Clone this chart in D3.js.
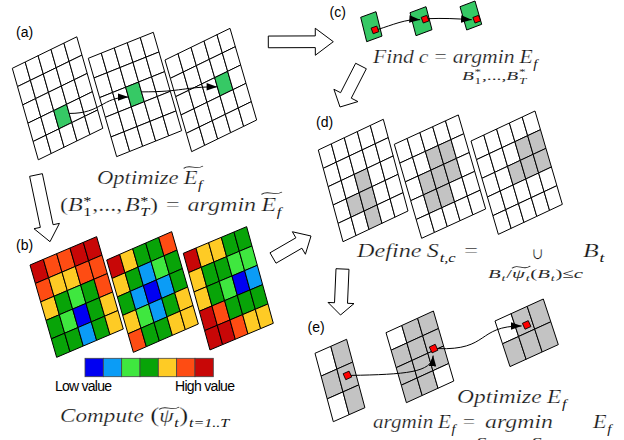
<!DOCTYPE html>
<html>
<head>
<meta charset="utf-8">
<script src="https://cdn.jsdelivr.net/npm/d3@7"></script>
<style>
  body { margin: 0; background: #fff; }
  svg { display: block; }
  .lbl { font-family: "Liberation Sans", Arial, sans-serif; font-size: 14px; fill: #000; }
  .math { font-family: "Liberation Serif", "DejaVu Serif", serif; font-style: italic; fill: #151515; }
  .math text.big { stroke: #fff; stroke-width: 0.22px; }
  .math.small { fill: #2a2a2a; }
</style>
</head>
<body>
<svg id="fig" width="624" height="440"></svg>
<script>
// psi value levels, 0 = low ... 6 = high
const levelColors = ["#0000f2", "#0b9cf6", "#3fe73f", "#08a408", "#fecb25", "#fe4c13", "#c80707"]
const psi1 = [[6,5,5,6,6],[5,4,4,5,5],[4,3,2,3,5],[3,2,0,3,4],[3,3,1,3,4]]
const psi2 = [[6,4,3,3,5],[4,3,1,2,3],[3,1,0,1,3],[4,2,1,3,4],[5,3,3,4,4]]
const psi3 = [[6,4,4,3,3],[4,3,3,2,2],[4,3,2,0,1],[6,5,3,3,3],[6,6,5,4,4]]

// best block B*_t of each frame in (a), [col,row]
const bestBlocks = [[2,3],[2,2],[3,2]]
// blocks kept in S_t,c in (d)
const setD1 = [[2,2],[1,3],[2,3],[2,4]]
const setD2 = [[2,1],[3,1],[1,2],[2,2],[3,2],[1,3],[2,3]]
const setD3 = [[3,1],[4,1],[2,2],[3,2],[4,2]]
// windows of (e), 1 = inside S_t,c
const subE1 = [[0,1],[1,1],[0,1]]
const subE2 = [[0,1,1],[1,1,1],[1,1,1],[1,1,0]]
const subE3 = [[0,1,1],[1,1,1]]
// chosen position c in every frame (grid units)
const pathC = [[0.67,0.67],[0.76,0.48],[0.79,0.73]]
const pathE = [[1.5,1.43],[2.4,1.9],[1.64,0.7]]
const legendLabels = ["Low value", "High value"]

const svg = d3.select('#fig')

// where each skewed grid sits: origin, column step, row step
const pos = {
  a: [{o:[12.3,68.3], u:[12.9,-6.3], v:[5.2,18.3]},
      {o:[88.3,58.3], u:[13,-5.2], v:[5.67,19.67]},
      {o:[165,60], u:[13,-6.33], v:[5.33,18.33]}],
  b: [{o:[30,265], u:[13.33,-5.67], v:[5.33,18.47]},
      {o:[106.7,260], u:[13,-5.67], v:[5.33,18.47]},
      {o:[183.3,253.3], u:[12.67,-5.33], v:[5.33,19.33]}],
  c: [{o:[360.7,17.3], u:[15.3,-5.6], v:[6,24.4]},
      {o:[410,12.7], u:[16,-6], v:[6,23]},
      {o:[460,6.7], u:[15,-5.7], v:[6.7,23.3]}],
  d: [{o:[318.3,150], u:[13,-6.14], v:[4.94,18.34]},
      {o:[394.3,144.3], u:[12.8,-5.87], v:[5.47,18.8]},
      {o:[471,141], u:[12.8,-6], v:[5.47,18.67]}],
  e: [{o:[315,353.3], u:[15.8,-7], v:[6.1,22.8]},
      {o:[386,332.7], u:[15.8,-7.23], v:[5.1,17.5]},
      {o:[495,321], u:[16.1,-7.33], v:[7.5,22.8]}]
}

const psiColor = d3.scaleOrdinal().domain(d3.range(7)).range(levelColors)
const greenColor = d3.scaleOrdinal().domain([0,1]).range(['#fff', '#36c965'])
const grayColor = d3.scaleOrdinal().domain([0,1]).range(['#fff', '#c3c3c3'])

function place(p, a, b) {
  return [p.o[0] + a*p.u[0] + b*p.v[0], p.o[1] + a*p.u[1] + b*p.v[1]]
}

function mask(list) {
  const m = d3.range(5).map(() => [0,0,0,0,0])
  list.forEach(([c, r]) => m[r][c] = 1)
  return m
}

function drawGrid(p, values, color) {
  const nr = values.length, nc = values[0].length
  const x = d3.scaleBand().domain(d3.range(nc)).range([0, nc])
  const y = d3.scaleBand().domain(d3.range(nr)).range([0, nr])
  const g = svg.append('g')
    .attr('transform', `matrix(${p.u[0]},${p.u[1]},${p.v[0]},${p.v[1]},${p.o[0]},${p.o[1]})`)
  const cells = values.flatMap((row, r) => row.map((v, c) => ({r, c, v})))
  g.selectAll('rect').data(cells).join('rect')
    .attr('x', d => x(d.c))
    .attr('y', d => y(d.r))
    .attr('width', x.bandwidth())
    .attr('height', y.bandwidth())
    .attr('fill', d => color(d.v))
    .attr('stroke', '#000')
    .attr('stroke-width', 1)
    .attr('vector-effect', 'non-scaling-stroke')
}

function redSquare(p, a, b, s) {
  const [cx, cy] = place(p, a, b)
  const ang = Math.atan2(p.u[1], p.u[0]) * 180 / Math.PI
  svg.append('rect')
    .attr('x', -s/2).attr('y', -s/2).attr('width', s).attr('height', s)
    .attr('transform', `translate(${cx},${cy}) rotate(${ang})`)
    .attr('fill', '#f00').attr('stroke', '#000').attr('stroke-width', 0.8)
}

svg.append('defs').append('marker')
  .attr('id', 'tri')
  .attr('viewBox', '0 0 10 7')
  .attr('refX', 10).attr('refY', 3.5)
  .attr('markerWidth', 11).attr('markerHeight', 7.5)
  .attr('markerUnits', 'userSpaceOnUse')
  .attr('orient', 'auto')
  .append('path').attr('d', 'M0,0L10,3.5L0,7Z').attr('fill', '#000')

function curve(s, c1, c2, e) {
  const p = d3.path()
  p.moveTo(s[0], s[1])
  p.bezierCurveTo(c1[0], c1[1], c2[0], c2[1], e[0], e[1])
  svg.append('path').attr('d', p.toString())
    .attr('fill', 'none').attr('stroke', '#000').attr('stroke-width', 1)
    .attr('marker-end', 'url(#tri)')
}

// big hollow arrows between steps
const bigArrows = [
  {tail:[268.3,41.9], tip:[333.3,41.7], shaft:11.7, head:27, len:18},
  {tail:[361,66], tip:[340,107], shaft:12, head:27, len:13},
  {tail:[36,175], tip:[50,241.7], shaft:13, head:26, len:16},
  {tail:[273,258], tip:[311,236], shaft:12, head:26, len:14},
  {tail:[342.5,269], tip:[340.5,315], shaft:13, head:26, len:12}
]
bigArrows.forEach(a => {
  const dx = a.tip[0] - a.tail[0], dy = a.tip[1] - a.tail[1]
  const L = Math.hypot(dx, dy), ux = dx/L, uy = dy/L, nx = -uy, ny = ux
  const bx = a.tip[0] - ux*a.len, by = a.tip[1] - uy*a.len
  const pts = [
    [a.tail[0] + nx*a.shaft/2, a.tail[1] + ny*a.shaft/2],
    [bx + nx*a.shaft/2, by + ny*a.shaft/2],
    [bx + nx*a.head/2, by + ny*a.head/2],
    a.tip,
    [bx - nx*a.head/2, by - ny*a.head/2],
    [bx - nx*a.shaft/2, by - ny*a.shaft/2],
    [a.tail[0] - nx*a.shaft/2, a.tail[1] - ny*a.shaft/2]
  ]
  svg.append('path').attr('d', d3.line()(pts) + 'Z')
    .attr('fill', '#fff').attr('stroke', '#000').attr('stroke-width', 1)
})

// (a)
bestBlocks.forEach((b, i) => drawGrid(pos.a[i], mask([b]), greenColor))
for (let i = 0; i < 2; i++) {
  const s = place(pos.a[i], bestBlocks[i][0] + 1, bestBlocks[i][1] + 0.5)
  const e = place(pos.a[i+1], bestBlocks[i+1][0], bestBlocks[i+1][1] + 0.5)
  const dx = e[0] - s[0]
  curve(s, [s[0] + dx*0.55, s[1]], [e[0] - dx*0.45, e[1]], e)
}

// (b)
;[psi1, psi2, psi3].forEach((m, i) => drawGrid(pos.b[i], m, psiColor))
const lx = d3.scaleBand().domain(d3.range(7)).range([85, 213.3])
svg.append('g').selectAll('rect').data(d3.range(7)).join('rect')
  .attr('x', d => lx(d)).attr('y', 358.3)
  .attr('width', lx.bandwidth()).attr('height', 18.4)
  .attr('fill', d => psiColor(d)).attr('stroke', '#444').attr('stroke-width', 0.8)
svg.append('text').attr('class', 'lbl').attr('x', 55).attr('y', 391)
  .attr('font-size', 13).attr('textLength', 57).text(legendLabels[0])
svg.append('text').attr('class', 'lbl').attr('x', 175).attr('y', 391)
  .attr('font-size', 13).attr('textLength', 60).text(legendLabels[1])

// (c)
pos.c.forEach(p => drawGrid(p, [[1]], greenColor))
for (let i = 0; i < 2; i++) {
  const s = place(pos.c[i], ...pathC[i]), e = place(pos.c[i+1], ...pathC[i+1])
  const a = [s[0] + 3, s[1] - 0.5], b = [e[0] - 5, e[1] + 0.5]
  curve(a, [a[0] + (b[0]-a[0])/3, a[1] + (b[1]-a[1])/3 - 1], [a[0] + 2*(b[0]-a[0])/3, b[1] - 1], b)
}
pathC.forEach((c, i) => redSquare(pos.c[i], c[0], c[1], 6))

// (d)
;[setD1, setD2, setD3].forEach((s, i) => drawGrid(pos.d[i], mask(s), grayColor))

// (e)
;[subE1, subE2, subE3].forEach((m, i) => drawGrid(pos.e[i], m, grayColor))
const r = pathE.map((c, i) => place(pos.e[i], c[0], c[1]))
{
  const s = [r[0][0] + 3, r[0][1]], e = [r[1][0] - 0.5, r[1][1] + 7]
  curve(s, [s[0] + 55, s[1] - 1], [e[0] - 1, e[1] + 17], e)
  const s2 = [r[1][0] + 4, r[1][1]], e2 = [r[2][0] - 5, r[2][1] + 1]
  curve(s2, [s2[0] + 52, s2[1] + 2], [e2[0] - 45, e2[1]], e2)
}
pathE.forEach((c, i) => redSquare(pos.e[i], c[0], c[1], 6.5))

// panel letters
;[['(a)',16,36.5],['(b)',16,250],['(c)',329.5,16.5],['(d)',316,126.5],['(e)',307.5,332]].forEach(([t,x,y]) =>
  svg.append('text').attr('class', 'lbl').attr('x', x).attr('y', y).text(t))

// math formulas: tokens laid out in a row, then stretched to the width of the picture
function tildePath(x0, x1, y) {
  const w = x1 - x0
  return `M${x0},${y+1.3} C${x0+w*0.35},${y-3.4} ${x0+w*0.6},${y+3.8} ${x1},${y-1}`
}
function formula(x, y, width, size, toks) {
  const g = svg.append('g').attr('class', 'math').classed('small', size < 15)
  let cx = 0, ts = 0
  const put = (t, tx, ty, fs, up) => {
    const el = g.append('text').attr('x', tx).attr('y', ty).attr('font-size', fs)
      .classed('big', fs >= 15).text(t)
    if (up) el.style('font-style', 'normal')
    return el.node().getComputedTextLength()
  }
  toks.forEach(k => {
    if (typeof k === 'string') k = {t: k}
    if (k.gap) cx += k.gap
    else if (k.ts) ts = cx
    else if (k.te) g.append('path').attr('d', tildePath(ts, cx, k.ty))
      .attr('fill', 'none').attr('stroke', '#222').attr('stroke-width', 0.9)
    else if (k.sup !== undefined) {
      // star above, index below, in one text
      const fs = k.size || size*0.68
      const el = g.append('text').attr('font-size', fs)
      const a = el.append('tspan').attr('x', cx + 0.5).attr('y', -size*0.36).style('font-style', 'normal').text(k.sup)
      const b = el.append('tspan').attr('x', cx + 0.5).attr('y', size*0.27).text(k.sub)
      if (k.up) b.style('font-style', 'normal')
      cx += Math.max(a.node().getComputedTextLength(), b.node().getComputedTextLength()) + 1
    } else if (k.sub !== undefined) {
      cx += put(k.sub, cx + 0.5, size*0.27, k.size || size*0.68, k.up) + 1
    } else {
      cx += put(k.t, cx, 0, k.size || size, k.up)
    }
  })
  g.attr('transform', `translate(${x},${y}) scale(${width/cx},1)`)
}

// (a)
formula(97, 184, 106, 18, ['Optimize', {gap:4}, {ts:1}, 'E', {sub:'f'}, {te:1, ty:-17}])
formula(60, 211, 222, 18, [{t:'(', up:1}, 'B', {sup:'*', sub:'1', up:1}, {t:',...,', up:1}, {gap:2},
  'B', {sup:'*', sub:'T'}, {t:')', up:1}, {gap:6}, {t:'=', up:1}, {gap:6}, 'argmin', {gap:4},
  {ts:1}, 'E', {sub:'f'}, {te:1, ty:-18}])
// (b)
formula(60, 422, 170, 18, ['Compute', {gap:5}, {t:'(', up:1, size:21}, {ts:1}, 'ψ', {sub:'t'},
  {te:1, ty:-14}, {t:')', up:1, size:21}, {sub:'t=1..T', size:12.5}])
// (c)
formula(373, 63, 165, 18, ['Find', {gap:4}, 'c', {gap:5}, {t:'=', up:1}, {gap:5}, 'argmin', {gap:4}, 'E', {sub:'f'}])
formula(462, 80, 65, 13.5, ['B', {sup:'*', sub:'1', up:1}, {t:',...,', up:1}, 'B', {sup:'*', sub:'T'}])
// (d)
formula(357, 257, 121, 18, ['Define', {gap:4}, 'S', {sub:'t,c'}, {gap:6}, {t:'=', up:1}])
formula(532, 258.5, 11, 16, [{t:'∪', up:1}])
formula(583, 257, 22, 18, ['B', {sub:'t'}])
formula(488, 277.5, 95, 13.5, ['B', {sub:'t'}, {t:'/', up:1}, {ts:1}, 'ψ', {sub:'t'}, {te:1, ty:-10.5},
  {t:'(', up:1}, 'B', {sub:'t'}, {t:')', up:1}, {t:'≤', up:1}, 'c'])
// (e)
formula(457, 403, 110, 18, ['Optimize', {gap:4}, 'E', {sub:'f'}])
formula(373, 428, 102, 18, ['argmin', {gap:4}, 'E', {sub:'f'}, {gap:6}, {t:'=', up:1}])
formula(485, 428, 68, 18, ['argmin'])
formula(593, 428, 19, 18, ['E', {sub:'f'}])
formula(476, 446, 84, 13, ['S', {sub:'1,c'}, {t:',...,', up:1}, 'S', {sub:'T,c'}])
</script>
</body>
</html>
